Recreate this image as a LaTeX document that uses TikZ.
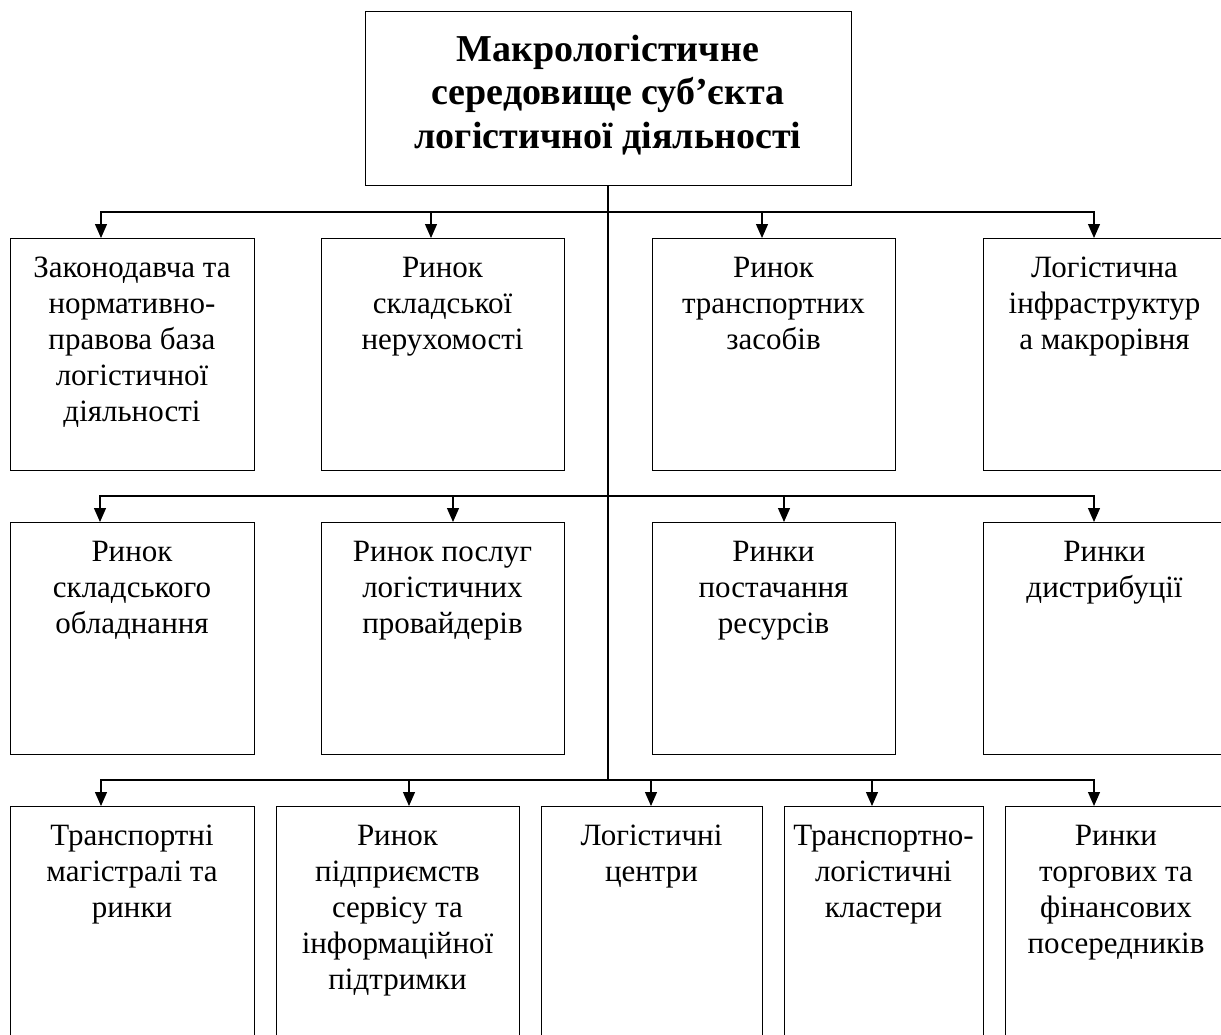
\documentclass[tikz,border=0pt]{standalone}
\usepackage{fontspec}
\setmainfont{Liberation Serif}
\usetikzlibrary{arrows.meta}

% fixed-height strut so every label's first baseline sits at the same depth
\newcommand\lnstrut{\rule{0pt}{26pt}}
\newcommand\ttlstrut{\rule{0pt}{32pt}}

\begin{document}
\begin{tikzpicture}[x=1pt,y=-1pt,
  box/.style={draw, line width=1.4pt, inner sep=0pt, anchor=north west},
  lbl/.style={anchor=north, align=center, inner sep=0pt,
              font=\fontsize{31}{36}\selectfont},
  ttl/.style={anchor=north, align=center, inner sep=0pt,
              font=\fontsize{38}{43.5}\selectfont\bfseries},
  link/.style={line width=1.2pt},
  arr/.style={link, -{Triangle[width=12pt,length=14pt]}}]

\useasboundingbox (0,0) rectangle (1221,1034);
\clip (0,0) rectangle (1221,1034);

% root
\node[box, minimum width=486pt, minimum height=174pt] (top) at (365,11) {};
\node[ttl] (ttop) at (608,29) {\ttlstrut Макрологістичне\\середовище суб’єкта\\логістичної діяльності};

% first row
\node[box, minimum width=244pt, minimum height=232pt] (r1a) at (10,238) {};
\node[box, minimum width=243pt, minimum height=232pt] (r1b) at (321,238) {};
\node[box, minimum width=243pt, minimum height=232pt] (r1c) at (652,238) {};
\node[box, minimum width=243pt, minimum height=232pt] (r1d) at (983,238) {};
\node[lbl] (t1a) at (132,251) {\lnstrut Законодавча та\\нормативно-\\правова база\\логістичної\\діяльності};
\node[lbl] (t1b) at (442.5,251) {\lnstrut Ринок\\складської\\нерухомості};
\node[lbl] (t1c) at (773.5,251) {\lnstrut Ринок\\транспортних\\засобів};
\node[lbl] (t1d) at (1104.5,251) {\lnstrut Логістична\\інфраструктур\\а макрорівня};

% second row
\node[box, minimum width=244pt, minimum height=232pt] (r2a) at (10,522) {};
\node[box, minimum width=243pt, minimum height=232pt] (r2b) at (321,522) {};
\node[box, minimum width=243pt, minimum height=232pt] (r2c) at (652,522) {};
\node[box, minimum width=243pt, minimum height=232pt] (r2d) at (983,522) {};
\node[lbl] (t2a) at (132,535) {\lnstrut Ринок\\складського\\обладнання};
\node[lbl] (t2b) at (442.5,535) {\lnstrut Ринок послуг\\логістичних\\провайдерів};
\node[lbl] (t2c) at (773.5,535) {\lnstrut Ринки\\постачання\\ресурсів};
\node[lbl] (t2d) at (1104.5,535) {\lnstrut Ринки\\дистрибуції};

% third row
\node[box, minimum width=244pt, minimum height=260pt] (r3a) at (10,806) {};
\node[box, minimum width=243pt, minimum height=260pt] (r3b) at (276,806) {};
\node[box, minimum width=221pt, minimum height=260pt] (r3c) at (541,806) {};
\node[box, minimum width=199pt, minimum height=260pt] (r3d) at (784,806) {};
\node[box, minimum width=222pt, minimum height=260pt] (r3e) at (1005,806) {};
\node[lbl] (t3a) at (132,819) {\lnstrut Транспортні\\магістралі та\\ринки};
\node[lbl] (t3b) at (397.5,819) {\lnstrut Ринок\\підприємств\\сервісу та\\інформаційної\\підтримки};
\node[lbl] (t3c) at (651.5,819) {\lnstrut Логістичні\\центри};
\node[lbl] (t3d) at (883.5,819) {\lnstrut Транспортно-\\логістичні\\кластери};
\node[lbl] (t3e) at (1116,819) {\lnstrut Ринки\\торгових та\\фінансових\\посередників};

% junctions on the trunk
\coordinate (j1) at (608,212);
\coordinate (j2) at (608,496);
\coordinate (j3) at (608,780);

% arrow tips on the box tops
\coordinate (a1a) at (101,238);
\coordinate (a1b) at (431,238);
\coordinate (a1c) at (762,238);
\coordinate (a1d) at (1094,238);
\coordinate (a2a) at (100,522);
\coordinate (a2b) at (453,522);
\coordinate (a2c) at (784,522);
\coordinate (a2d) at (1094,522);
\coordinate (a3a) at (101,806);
\coordinate (a3b) at (409,806);
\coordinate (a3c) at (651,806);
\coordinate (a3d) at (872,806);
\coordinate (a3e) at (1094,806);

% trunk
\draw[line width=1.5pt] (top.south -| j1) -- (j3);

% branches
\foreach \t in {a1a,a1b,a1c,a1d} \draw[arr] (j1) -| (\t);
\foreach \t in {a2a,a2b,a2c,a2d} \draw[arr] (j2) -| (\t);
\foreach \t in {a3a,a3b,a3c,a3d,a3e} \draw[arr] (j3) -| (\t);

\end{tikzpicture}
\end{document}
